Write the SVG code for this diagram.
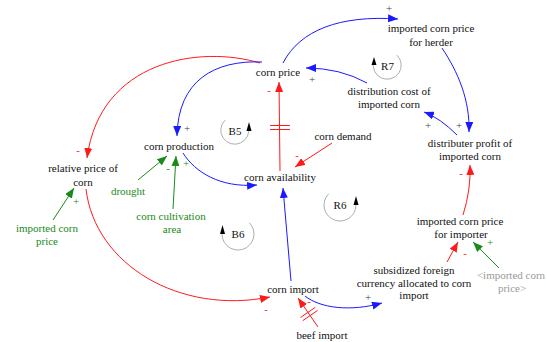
<svg xmlns="http://www.w3.org/2000/svg" width="547" height="342" viewBox="0 0 547 342" font-family="'Liberation Serif', 'DejaVu Serif', serif">
<style>
text{font-family:'Liberation Serif','DejaVu Serif',serif;font-size:11px;font-weight:normal;text-anchor:middle;fill:#111}
.g{fill:#1a8a1a}
.gy{fill:#999}
.sr{fill:#ff2020}
.sk{fill:#444}
.sg{fill:#1a8a1a}
.r{stroke:#ff1a1a;fill:none;stroke-width:1}
.b{stroke:#1a1aff;fill:none;stroke-width:1}
.gl{stroke:#1a8a1a;fill:none;stroke-width:1}
.loop{stroke:#999;fill:none;stroke-width:0.8}
.hatch{stroke:#ff1a1a;stroke-width:1}
</style>
<defs>
<marker id="ar" markerUnits="userSpaceOnUse" markerWidth="11" markerHeight="8" refX="10" refY="4" orient="auto"><path d="M0,0 L10,4 L0,8 z" fill="#ff1a1a"/></marker>
<marker id="ab" markerUnits="userSpaceOnUse" markerWidth="11" markerHeight="8" refX="10" refY="4" orient="auto"><path d="M0,0 L10,4 L0,8 z" fill="#1a1aff"/></marker>
<marker id="ag" markerUnits="userSpaceOnUse" markerWidth="11" markerHeight="8" refX="10" refY="4" orient="auto"><path d="M0,0 L10,4 L0,8 z" fill="#1a8a1a"/></marker>
</defs>
<rect width="547" height="342" fill="#fff"/>

<g id="connectors">
<path class="r" d="M260,63 C200,45 100,60 87,158" marker-end="url(#ar)"/>
<path class="b" d="M262,62 C215,60 178,80 177,136" marker-end="url(#ab)"/>
<path class="b" d="M283,63 C300,30 340,15 398,19" marker-end="url(#ab)"/>
<path class="b" d="M442,48 C458,72 470,100 469,132" marker-end="url(#ab)"/>
<path class="b" d="M457,135 Q440,118 424,112" marker-end="url(#ab)"/>
<path class="b" d="M367,83 Q340,68 306,68" marker-end="url(#ab)"/>
<path class="r" d="M280,171 L279,82" marker-end="url(#ar)"/>
<line class="hatch" x1="270" y1="125.5" x2="290" y2="125.5"/>
<line class="hatch" x1="270" y1="129.5" x2="290" y2="129.5"/>
<path class="r" d="M332,143 L295,167" marker-end="url(#ar)"/>
<path class="b" d="M183,153 C195,172 220,188 257,185" marker-end="url(#ab)"/>
<path class="gl" d="M138,180 L167,156" marker-end="url(#ag)"/>
<path class="gl" d="M173,209 L176,156" marker-end="url(#ag)"/>
<path class="gl" d="M53,220 L74,188" marker-end="url(#ag)"/>
<path class="r" d="M86,189 C95,265 180,315 270,297" marker-end="url(#ar)"/>
<path class="b" d="M291,281 L283,188" marker-end="url(#ab)"/>
<path class="b" d="M305,296 C320,308 350,312 382,303" marker-end="url(#ab)"/>
<path class="r" d="M318,327 L298,298" marker-end="url(#ar)"/>
<line class="hatch" x1="302.7" y1="320.7" x2="317.5" y2="310.5"/>
<line class="hatch" x1="300.5" y1="317.5" x2="315.3" y2="307.3"/>
<path class="r" d="M447,262 L458,242" marker-end="url(#ar)"/>
<path class="gl" d="M499,268 L473,242" marker-end="url(#ag)"/>
<path class="r" d="M463,215 Q471,190 470,165" marker-end="url(#ar)"/>
</g>

<g id="signs">
<text class="sk" x="389" y="12">+</text>
<text class="sk" x="312" y="83">+</text>
<text class="sk" x="428" y="129">+</text>
<text class="sk" x="459" y="129">+</text>
<text class="sr" x="269" y="94">-</text>
<text class="sk" x="187" y="132">+</text>
<text class="sr" x="78" y="154">-</text>
<text class="sg" x="168" y="172">-</text>
<text class="sg" x="186" y="167">+</text>
<text class="sr" x="297" y="159">-</text>
<text class="sr" x="461" y="177">-</text>
<text class="sg" x="76" y="205">+</text>
<text class="sr" x="266" y="313">-</text>
<text class="sr" x="309" y="305">-</text>
<text class="sk" x="368" y="301">+</text>
<text class="sr" x="465" y="257">-</text>
<text class="sg" x="490" y="246">+</text>
</g>

<g id="loop-R7">
<path class="loop" d="M396.9,55.1 A14,14 0 1 1 373.7,61.5"/>
<polygon points="374,57 371.5,65 376.5,65" fill="#000"/>
<text x="387.5" y="69.5">R7</text>
</g>
<g id="loop-B5">
<path class="loop" d="M225.1,120.1 A14,14 0 1 0 248.3,126.5"/>
<polygon points="249,122 246.5,131 251.5,131" fill="#000"/>
<text x="235" y="135">B5</text>
</g>
<g id="loop-B6">
<path class="loop" d="M249.3,222.7 A16,16 0 1 1 222.4,230.5"/>
<polygon points="222.5,225 220,234 225,234" fill="#000"/>
<text x="238" y="237.5">B6</text>
</g>
<g id="loop-R6">
<path class="loop" d="M328.7,193.7 A16,16 0 1 0 355.6,201.5"/>
<polygon points="356,196 353.5,205 358.5,205" fill="#000"/>
<text x="340" y="209">R6</text>
</g>

<g id="node-herder"><text x="431" y="31.5">imported corn price</text><text x="431" y="45.5">for herder</text></g>
<g id="node-corn-price"><text x="278" y="75.5">corn price</text></g>
<g id="node-distribution-cost"><text x="389" y="94.5">distribution cost of</text><text x="389" y="107.5">imported corn</text></g>
<g id="node-corn-production"><text x="179" y="149.5">corn production</text></g>
<g id="node-corn-demand"><text x="343" y="139.5">corn demand</text></g>
<g id="node-distributer-profit"><text x="470" y="146.5">distributer profit of</text><text x="470" y="159.5">imported corn</text></g>
<g id="node-relative-price"><text x="83" y="171.5">relative price of</text><text x="83" y="185.5">corn</text></g>
<g id="node-drought"><text class="g" x="128" y="194.5">drought</text></g>
<g id="node-corn-availability"><text x="280" y="180.5">corn availability</text></g>
<g id="node-cultivation-area"><text class="g" x="171" y="219.5">corn cultivation</text><text class="g" x="172" y="232.5">area</text></g>
<g id="node-imported-corn-price"><text class="g" x="47" y="231.5">imported corn</text><text class="g" x="47" y="244.5">price</text></g>
<g id="node-importer"><text x="460" y="224.5">imported corn price</text><text x="461" y="237.5">for importer</text></g>
<g id="node-subsidized"><text x="414" y="273.5">subsidized foreign</text><text x="414" y="286.5">currency allocated to corn</text><text x="414" y="298.5">import</text></g>
<g id="node-imported-corn-price-shadow"><text class="gy" x="511" y="278.5">&lt;imported corn</text><text class="gy" x="512" y="291.5">price&gt;</text></g>
<g id="node-corn-import"><text x="293" y="292.5">corn import</text></g>
<g id="node-beef-import"><text x="322" y="338.5">beef import</text></g>
</svg>
